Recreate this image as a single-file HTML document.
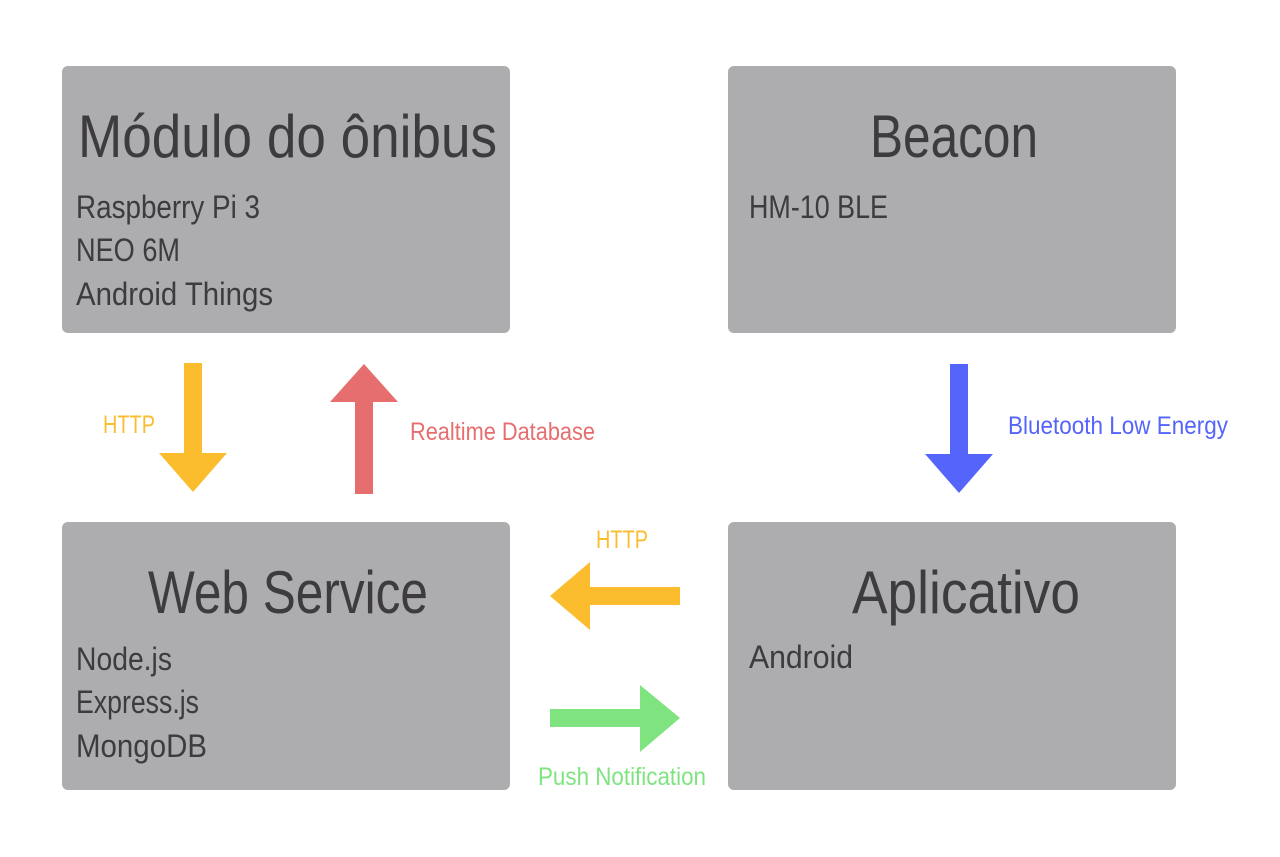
<!DOCTYPE html>
<html><head><meta charset="utf-8"><style>html,body{margin:0;padding:0;background:#fff}svg{display:block}</style></head><body>
<svg width="1280" height="857" viewBox="0 0 1280 857" xmlns="http://www.w3.org/2000/svg" font-family="Liberation Sans, sans-serif">
<rect width="1280" height="857" fill="#fff"/>
<g fill="#adacae">
<rect x="62" y="66" width="448" height="267" rx="6"/>
<rect x="728" y="66" width="448" height="267" rx="6"/>
<rect x="62" y="522" width="448" height="268" rx="6"/>
<rect x="728" y="522" width="448" height="268" rx="6"/>
</g>
<g fill="#3d3b3d">
<text x="78" y="157" font-size="60" textLength="419" lengthAdjust="spacingAndGlyphs">Módulo do ônibus</text>
<text x="76" y="218" font-size="32" textLength="184" lengthAdjust="spacingAndGlyphs">Raspberry Pi 3</text>
<text x="76" y="261" font-size="32" textLength="104" lengthAdjust="spacingAndGlyphs">NEO 6M</text>
<text x="76" y="305" font-size="32" textLength="197" lengthAdjust="spacingAndGlyphs">Android Things</text>
<text x="870" y="157" font-size="60" textLength="168" lengthAdjust="spacingAndGlyphs">Beacon</text>
<text x="749" y="218" font-size="32" textLength="139" lengthAdjust="spacingAndGlyphs">HM-10 BLE</text>
<text x="148" y="613" font-size="60" textLength="280" lengthAdjust="spacingAndGlyphs">Web Service</text>
<text x="76" y="670" font-size="32" textLength="96" lengthAdjust="spacingAndGlyphs">Node.js</text>
<text x="76" y="713" font-size="32" textLength="123" lengthAdjust="spacingAndGlyphs">Express.js</text>
<text x="76" y="757" font-size="32" textLength="131" lengthAdjust="spacingAndGlyphs">MongoDB</text>
<text x="852" y="613" font-size="60" textLength="228" lengthAdjust="spacingAndGlyphs">Aplicativo</text>
<text x="749" y="668" font-size="32" textLength="104" lengthAdjust="spacingAndGlyphs">Android</text>
</g>
<polygon fill="#fbbd2e" points="184,363 202,363 202,453 227,453 193,492 159,453 184,453"/>
<polygon fill="#e66e6e" points="355,494 373,494 373,402 398,402 364,364 330,402 355,402"/>
<polygon fill="#5564fb" points="950,364 968,364 968,454 993,454 959,493 925,454 950,454"/>
<polygon fill="#fbbd2e" points="680,587 680,605 590,605 590,630 550,596 590,562 590,587"/>
<polygon fill="#7fe47f" points="550,709 550,727 640,727 640,752 680,718 640,685 640,709"/>
<text x="103" y="433" font-size="25" fill="#fbbd2e" textLength="52" lengthAdjust="spacingAndGlyphs">HTTP</text>
<text x="410" y="440" font-size="25" fill="#e66e6e" textLength="185" lengthAdjust="spacingAndGlyphs">Realtime Database</text>
<text x="1008" y="434" font-size="25" fill="#5564fb" textLength="220" lengthAdjust="spacingAndGlyphs">Bluetooth Low Energy</text>
<text x="596" y="548" font-size="25" fill="#fbbd2e" textLength="52" lengthAdjust="spacingAndGlyphs">HTTP</text>
<text x="538" y="785" font-size="25" fill="#7fe47f" textLength="168" lengthAdjust="spacingAndGlyphs">Push Notification</text>
</svg>
</body></html>
